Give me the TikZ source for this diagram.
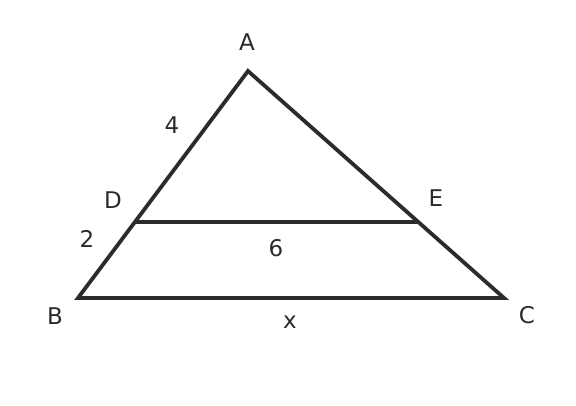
\documentclass[tikz,border=0pt]{standalone}
\usepackage{fontspec}
\setmainfont{DejaVu Sans}
\usetikzlibrary{calc}
\definecolor{ink}{HTML}{2B2B2B}
\begin{document}
\begin{tikzpicture}[x=1pt,y=-1pt,
  edge/.style={draw=ink,line width=3.8pt,line join=miter},
  lbl/.style={text=ink,font=\fontsize{23}{28}\selectfont,inner sep=0pt}]
\useasboundingbox (0,0) rectangle (576,406);
\coordinate (A) at (248,71);
\coordinate (B) at (78,298);
\coordinate (C) at (504,298);
\coordinate (D) at ($(A)!0.6667!(B)$);
\coordinate (E) at ($(A)!0.6667!(C)$);
\draw[edge] (A) -- (B) -- (C) -- cycle;
\draw[edge] (D) -- (E);
\node[lbl] (lA) at (247,42) {A};
\node[lbl] (lB) at (55,316) {B};
\node[lbl] (lC) at (527,315) {C};
\node[lbl] (lD) at (113,200) {D};
\node[lbl] (lE) at (436,198) {E};
\node[lbl] (l4) at (172,125) {4};
\node[lbl] (l2) at (87,239) {2};
\node[lbl] (l6) at (276,248) {6};
\node[lbl] (lx) at (290,322) {x};
\end{tikzpicture}
\end{document}
